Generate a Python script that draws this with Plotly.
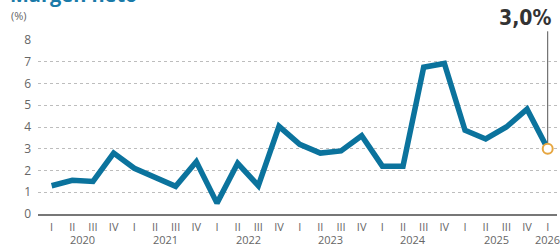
import plotly.graph_objects as go

quarters = ["I", "II", "III", "IV"] * 6 + ["I"]
years = ["2020", "2021", "2022", "2023", "2024", "2025", "2026"]
values = [1.3, 1.55, 1.5, 2.8,
          2.1, 1.65, 1.27, 2.4,
          0.5, 2.33, 1.3, 4.03,
          3.2, 2.8, 2.9, 3.6,
          2.2, 2.2, 6.75, 6.92,
          3.85, 3.45, 4.0, 4.82,
          3.0]
last_label = "3,0%"
title_text = "Margen neto"
unit_text = "(%)"

x = list(range(len(values)))
blue = "#0b739d"

fig = go.Figure()
fig.add_trace(go.Scatter(
    x=x, y=values, mode="lines",
    line=dict(color=blue, width=5.5, shape="linear"),
    hoverinfo="skip", showlegend=False, cliponaxis=False,
))
fig.add_trace(go.Scatter(
    x=[x[-1]], y=[values[-1]], mode="markers",
    marker=dict(size=10, color="white", line=dict(color="#e6a640", width=2)),
    hoverinfo="skip", showlegend=False, cliponaxis=False,
))

# vertical line from last point up to label
fig.add_shape(type="line", xref="x", yref="paper",
              x0=x[-1], x1=x[-1], y0=(values[-1]) / 8.0, y1=1.05,
              line=dict(color="#555555", width=1), layer="below")

fig.add_annotation(x=x[-1], y=1.045, xref="x", yref="paper",
                   text=f"<b>{last_label}</b>", showarrow=False,
                   xanchor="right", yanchor="bottom", xshift=5,
                   font=dict(family="Liberation Sans Narrow, DejaVu Sans Condensed, Roboto, sans-serif",
                             size=21, color="#333333"))

# year labels centered under their quarters
for i, yr in enumerate(years):
    idxs = [k for k in range(len(values)) if k // 4 == i]
    cx = sum(idxs) / len(idxs)
    fig.add_annotation(x=cx, y=0, xref="x", yref="paper", text=yr,
                       showarrow=False, yanchor="middle", yshift=-25,
                       font=dict(family="Open Sans, sans-serif", size=11, color="#666666"))

fig.add_annotation(x=0, y=1, xref="paper", yref="paper", text=unit_text,
                   showarrow=False, xanchor="left", yanchor="middle",
                   xshift=-29, yshift=25,
                   font=dict(family="Open Sans, sans-serif", size=11, color="#666666"))

fig.add_annotation(x=0, y=1, xref="paper", yref="paper", text=f"<b>{title_text}</b>",
                   showarrow=False, xanchor="left", yanchor="bottom",
                   xshift=-30, yshift=30,
                   font=dict(family="Open Sans, sans-serif", size=20, color="#1a7aa8"))

fig.update_xaxes(
    range=[-0.66, 24.45], tickmode="array", tickvals=x, ticktext=quarters,
    showgrid=False, zeroline=False, showline=True, linecolor="#777777", linewidth=2,
    ticks="", tickfont=dict(family="Open Sans, sans-serif", size=11, color="#666666"),
    ticklabelstandoff=2, fixedrange=True, automargin=False,
)
fig.update_yaxes(
    range=[0, 8], tickmode="array", tickvals=list(range(0, 9)),
    showgrid=True, gridcolor="#bdbdbd", griddash="dot", gridwidth=1,
    zeroline=False, showline=False, ticks="",
    tickfont=dict(family="Open Sans, sans-serif", size=12, color="#666666"),
    ticklabelstandoff=6, fixedrange=True, automargin=False,
)
fig.update_layout(
    width=560, height=244,
    margin=dict(l=38, r=3, t=40, b=30),
    paper_bgcolor="white", plot_bgcolor="white",
)
fig.write_html("out.html", config={"displayModeBar": False},
               post_script="document.body.style.margin='0';document.body.style.overflow='hidden';")
